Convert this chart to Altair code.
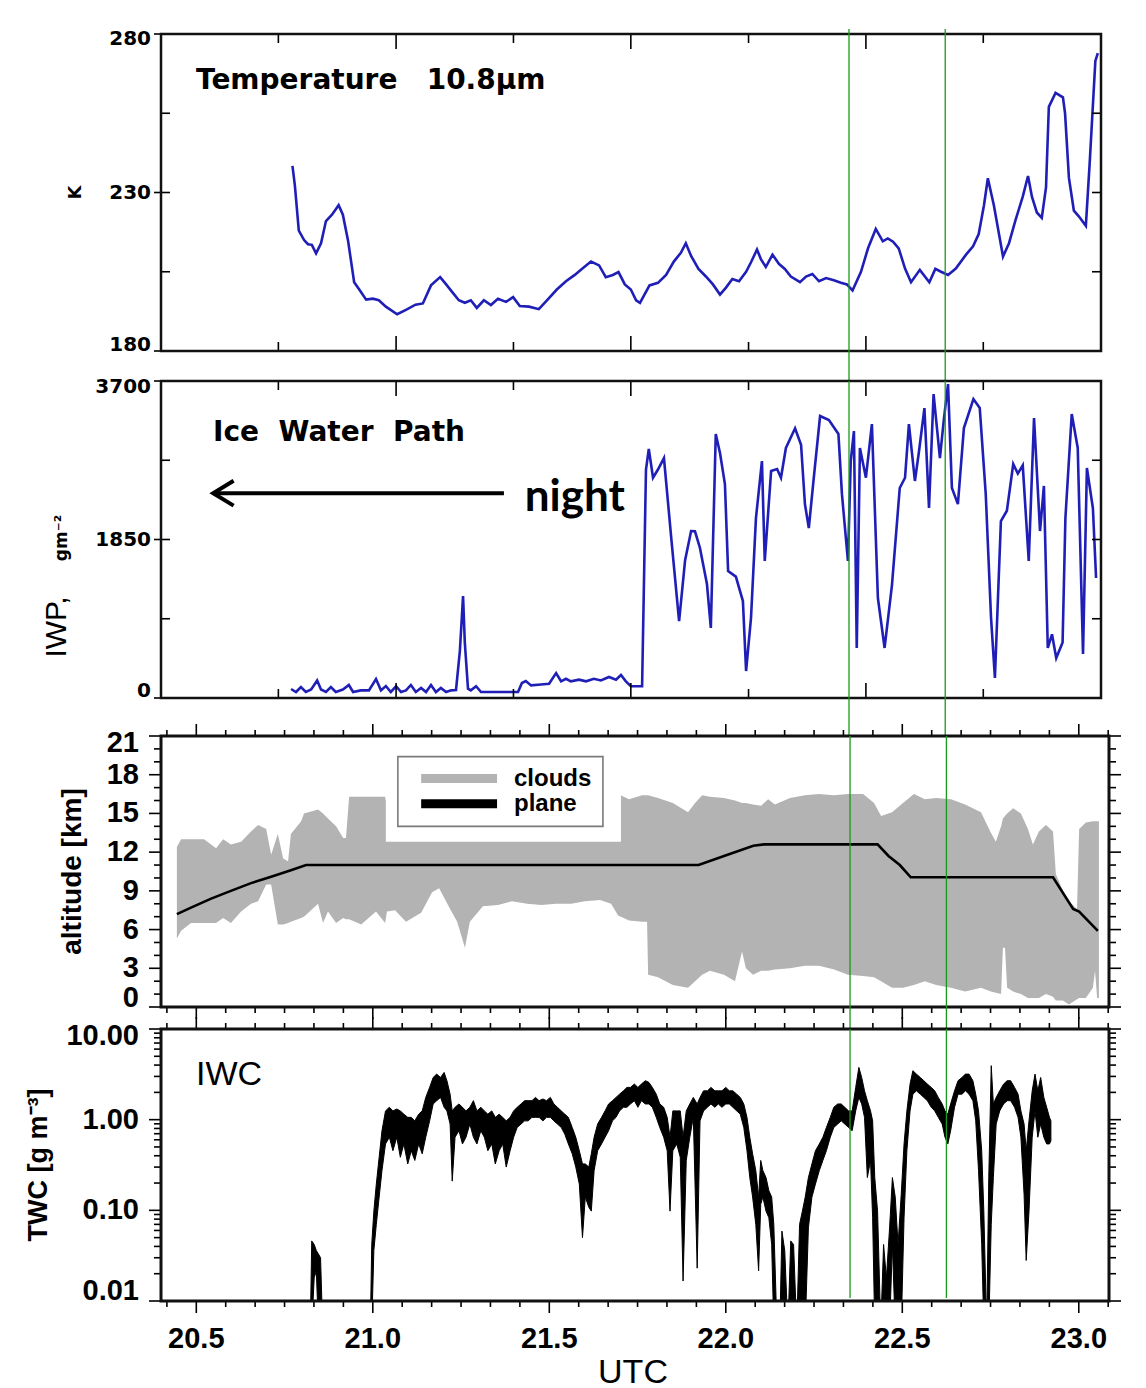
import altair as alt
import pandas as pd

# ---------------- data ----------------
# Panel 1: brightness temperature 10.8 um (K) vs UTC hour
TEMP_T = [20.773, 20.780, 20.791, 20.806, 20.817, 20.828, 20.840, 20.854, 20.868, 20.885,
          20.904, 20.916, 20.931, 20.948, 20.962, 20.982, 21.001, 21.018, 21.038, 21.070,
          21.095, 21.122, 21.143, 21.166, 21.192, 21.209, 21.227, 21.245, 21.262, 21.279,
          21.296, 21.316, 21.336, 21.356, 21.379, 21.399, 21.418, 21.444, 21.472, 21.495,
          21.523, 21.549, 21.574, 21.594, 21.620, 21.643, 21.662, 21.682, 21.698, 21.716,
          21.733, 21.748, 21.759, 21.786, 21.810, 21.833, 21.855, 21.875, 21.889, 21.904,
          21.925, 21.946, 21.966, 21.986, 22.003, 22.021, 22.040, 22.060, 22.074, 22.091,
          22.102, 22.116, 22.135, 22.153, 22.170, 22.187, 22.213, 22.230, 22.248, 22.267,
          22.287, 22.309, 22.329, 22.346, 22.362, 22.386, 22.406, 22.428, 22.448, 22.462,
          22.477, 22.493, 22.511, 22.528, 22.553, 22.580, 22.597, 22.613, 22.633, 22.655,
          22.684, 22.704, 22.720, 22.735, 22.746, 22.763, 22.789, 22.806, 22.824, 22.845,
          22.860, 22.871, 22.885, 22.899, 22.911, 22.919, 22.938, 22.959, 22.965, 22.976,
          22.990, 23.004, 23.024, 23.035, 23.051, 23.058]
TEMP_K = [238.4, 232, 218, 215, 213.7, 213.5, 210.8, 214, 221, 223,
          226, 223, 214.6, 201.7, 199.5, 196.2, 196.5, 196, 194, 191.6,
          193, 194.6, 195, 200.7, 203.3, 201, 198.5, 196, 195.2, 196,
          193.6, 196, 194.5, 196.5, 195.5, 197, 194.2, 194, 193.2, 196,
          199.4, 202, 204, 205.9, 208.2, 207, 203.3, 204, 204.9, 201,
          199.4, 196, 195.2, 200.7, 201.5, 204, 208.2, 211, 214, 210,
          205.9, 203.5, 201, 197.8, 200, 202.7, 202, 205, 208, 212,
          209, 206.5, 210.4, 207.5, 205.9, 203.5, 201.7, 203.5, 204.3, 202,
          203, 202.3, 201.5, 201, 199.1, 205, 212.4, 218.5, 214.6, 215.5,
          214.5, 212.4, 206, 201.7, 205.6, 201.7, 205.9, 205, 204, 206,
          210.4, 213, 216.9, 226, 234.5, 226, 209.8, 214, 221.1, 228.7,
          235.2, 228.7, 223.7, 222, 231.6, 257, 261.4, 260, 255, 234.6,
          224.3, 222.5, 219.5, 239.5, 271.5, 274]

# Panel 2: ice water path (g m-2)
IWP_T = [20.769, 20.783, 20.797, 20.811, 20.826, 20.843, 20.854, 20.868, 20.882, 20.896,
         20.916, 20.933, 20.945, 20.967, 20.990, 21.010, 21.024, 21.038, 21.052, 21.067,
         21.081, 21.095, 21.109, 21.123, 21.138, 21.152, 21.166, 21.180, 21.194, 21.209,
         21.223, 21.237, 21.248, 21.257, 21.262, 21.271, 21.279, 21.294, 21.308, 21.336,
         21.365, 21.393, 21.413, 21.424, 21.435, 21.450, 21.478, 21.501, 21.521, 21.535,
         21.549, 21.563, 21.586, 21.606, 21.628, 21.648, 21.671, 21.691, 21.705, 21.719,
         21.733, 21.756, 21.765, 21.776, 21.784, 21.796, 21.810, 21.827, 21.847, 21.870,
         21.887, 21.904, 21.915, 21.929, 21.949, 21.960, 21.974, 21.986, 22.000, 22.009,
         22.031, 22.051, 22.060, 22.074, 22.088, 22.105, 22.113, 22.131, 22.148, 22.159,
         22.173, 22.199, 22.216, 22.227, 22.238, 22.252, 22.270, 22.295, 22.322, 22.332,
         22.349, 22.357, 22.366, 22.374, 22.383, 22.400, 22.417, 22.434, 22.453, 22.474,
         22.496, 22.511, 22.522, 22.539, 22.550, 22.566, 22.579, 22.592, 22.610, 22.621,
         22.633, 22.644, 22.661, 22.678, 22.705, 22.723, 22.740, 22.755, 22.766, 22.783,
         22.800, 22.818, 22.831, 22.845, 22.862, 22.877, 22.894, 22.905, 22.916, 22.928,
         22.940, 22.958, 22.966, 22.984, 23.001, 23.016, 23.027, 23.044, 23.053]
IWP_V = [105, 70, 128, 70, 99, 205, 99, 70, 128, 70,
         99, 152, 70, 89, 89, 222, 89, 140, 70, 137,
         70, 89, 152, 70, 118, 70, 152, 70, 118, 70,
         89, 94, 551, 1191, 647, 108, 89, 137, 70, 70,
         70, 70, 70, 175, 198, 147, 157, 166, 291, 195,
         224, 195, 214, 195, 224, 205, 245, 214, 268, 195,
         137, 137, 137, 2667, 2906, 2571, 2667, 2800, 1898, 898,
         1609, 1949, 1946, 1754, 1330, 817, 3081, 2860, 2497, 1482,
         1417, 1132, 315, 936, 2100, 2766, 1599, 2649, 2672, 2571,
         2918, 3148, 2956, 2263, 1984, 2567, 3291, 3245, 3081, 2379,
         1599, 2764, 3116, 584, 2918, 2571, 3197, 1167, 584, 1321,
         2451, 2571, 3197, 2533, 2860, 3384, 2217, 3548, 2800, 3245,
         3664, 2451, 2263, 3150, 3489, 3384, 2379, 936, 234, 2065,
         2186, 2731, 2619, 2716, 1599, 3268, 1949, 2475, 584, 743,
         466, 647, 2100, 3314, 2918, 513, 2684, 2217, 1400]

# Panel 3: cloud layer (top / bottom, km) and aircraft altitude (km)
CLOUD_T = [20.445, 20.457, 20.485, 20.522, 20.556, 20.576, 20.598, 20.627, 20.655, 20.675,
           20.698, 20.712, 20.731, 20.746, 20.760, 20.768, 20.797, 20.805, 20.845, 20.859,
           20.873, 20.896, 20.916, 20.924, 20.933, 20.967, 21.009, 21.035, 21.040, 21.063,
           21.094, 21.137, 21.168, 21.188, 21.219, 21.239, 21.261, 21.275, 21.312, 21.355,
           21.394, 21.437, 21.477, 21.519, 21.562, 21.601, 21.644, 21.675, 21.695, 21.726,
           21.763, 21.777, 21.780, 21.808, 21.850, 21.893, 21.913, 21.933, 21.955, 21.995,
           22.026, 22.046, 22.057, 22.077, 22.100, 22.120, 22.139, 22.182, 22.224, 22.264,
           22.307, 22.346, 22.389, 22.420, 22.440, 22.471, 22.502, 22.533, 22.564, 22.596,
           22.638, 22.678, 22.723, 22.751, 22.765, 22.780, 22.785, 22.791, 22.797, 22.814,
           22.836, 22.856, 22.870, 22.887, 22.907, 22.927, 22.935, 22.955, 22.972, 22.995,
           23.001, 23.020, 23.040, 23.046, 23.052, 23.057]
CLOUD_TOP = [12.4, 13.0, 13.0, 13.0, 12.3, 13.0, 12.6, 12.8, 13.6, 14.1,
             13.8, 11.8, 13.4, 11.5, 11.3, 13.4, 14.4, 15.0, 15.3, 15.0,
             14.6, 14.0, 13.1, 13.1, 16.3, 16.3, 16.3, 16.3, 15.5, 15.5,
             15.5, 15.5, 15.5, 15.5, 15.5, 15.5, 15.5, 15.5, 15.5, 15.5,
             15.5, 15.5, 15.5, 15.5, 15.5, 15.5, 15.5, 15.5, 16.5, 16.1,
             16.4, 16.4, 16.4, 16.2, 15.8, 15.1, 15.8, 16.4, 16.3, 16.2,
             16.0, 15.8, 15.8, 15.7, 15.6, 16.1, 15.7, 16.2, 16.4, 16.5,
             16.4, 16.5, 16.5, 15.8, 14.8, 15.1, 15.8, 16.5, 16.1, 16.2,
             16.1, 15.7, 15.1, 13.5, 12.8, 14.0, 14.6, 14.8, 15.0, 15.4,
             15.0, 13.8, 12.6, 13.6, 14.1, 13.6, 10.3, 9.0, 8.2, 7.6,
             13.8, 14.3, 14.4, 14.4, 14.4, 14.4]
CLOUD_BOT = [5.3, 5.9, 6.5, 6.5, 6.5, 6.9, 6.5, 7.4, 8.0, 8.2,
             9.5, 9.5, 6.4, 6.4, 6.5, 6.6, 6.9, 7.0, 8.0, 6.5,
             7.4, 6.5, 6.9, 6.8, 6.8, 6.4, 7.4, 6.5, 7.4, 7.5,
             6.6, 7.3, 8.9, 9.2, 7.6, 6.6, 4.6, 6.6, 7.8, 7.9,
             8.2, 8.0, 7.9, 8.0, 8.0, 8.2, 8.3, 8.0, 7.1, 6.7,
             6.6, 6.6, 2.5, 2.3, 1.7, 1.5, 2.0, 2.5, 2.8, 2.5,
             2.0, 4.3, 3.0, 2.5, 2.8, 2.8, 2.9, 3.0, 3.2, 3.2,
             2.9, 2.5, 2.4, 2.3, 2.0, 1.5, 1.5, 1.7, 2.0, 1.7,
             1.5, 1.2, 1.5, 1.2, 1.1, 1.0, 4.6, 4.6, 1.5, 1.2,
             1.0, 0.7, 0.7, 0.7, 1.0, 0.8, 0.5, 0.5, 0.2, 0.6,
             0.7, 0.7, 1.5, 2.8, 0.7, 0.7]
PLANE_T = [20.445, 20.485, 20.542, 20.598, 20.655, 20.712, 20.768, 20.811, 21.923, 21.995,
           22.078, 22.109, 22.430, 22.461, 22.493, 22.524, 22.927, 22.984, 23.001, 23.054]
PLANE_ALT = [7.2, 7.7, 8.4, 9.0, 9.6, 10.1, 10.6, 11.0, 11.0, 11.7,
             12.5, 12.6, 12.6, 11.7, 11.0, 10.05, 10.05, 7.6, 7.4, 5.9]

# Panel 4: in-situ IWC (g m-3), noisy record drawn as its low / high envelope
IWC_T = [20.823, 20.827, 20.834, 20.840, 20.846, 20.852, 20.858, 20.993, 20.997, 21.003,
         21.010, 21.018, 21.026, 21.036, 21.047, 21.057, 21.068, 21.078, 21.088, 21.099,
         21.109, 21.119, 21.130, 21.140, 21.150, 21.161, 21.171, 21.181, 21.192, 21.202,
         21.210, 21.219, 21.225, 21.233, 21.244, 21.254, 21.264, 21.275, 21.285, 21.295,
         21.306, 21.316, 21.326, 21.337, 21.347, 21.358, 21.368, 21.378, 21.389, 21.399,
         21.409, 21.420, 21.430, 21.440, 21.451, 21.461, 21.471, 21.482, 21.492, 21.503,
         21.513, 21.523, 21.534, 21.544, 21.554, 21.565, 21.575, 21.585, 21.594, 21.602,
         21.612, 21.619, 21.627, 21.637, 21.648, 21.658, 21.668, 21.679, 21.689, 21.699,
         21.710, 21.720, 21.730, 21.741, 21.751, 21.761, 21.772, 21.782, 21.792, 21.803,
         21.813, 21.824, 21.834, 21.842, 21.850, 21.861, 21.871, 21.879, 21.888, 21.898,
         21.908, 21.919, 21.927, 21.937, 21.948, 21.958, 21.969, 21.979, 21.989, 22.000,
         22.010, 22.020, 22.031, 22.041, 22.051, 22.060, 22.068, 22.076, 22.085, 22.093,
         22.099, 22.105, 22.114, 22.122, 22.130, 22.136, 22.145, 22.153, 22.159, 22.167,
         22.176, 22.184, 22.192, 22.201, 22.209, 22.217, 22.225, 22.234, 22.244, 22.254,
         22.265, 22.275, 22.285, 22.296, 22.306, 22.317, 22.327, 22.337, 22.348, 22.358,
         22.368, 22.377, 22.385, 22.393, 22.401, 22.410, 22.416, 22.422, 22.430, 22.439,
         22.447, 22.455, 22.464, 22.472, 22.480, 22.488, 22.497, 22.505, 22.513, 22.522,
         22.530, 22.540, 22.551, 22.561, 22.571, 22.582, 22.592, 22.602, 22.613, 22.621,
         22.629, 22.637, 22.648, 22.658, 22.669, 22.679, 22.689, 22.700, 22.708, 22.716,
         22.725, 22.731, 22.739, 22.745, 22.752, 22.758, 22.766, 22.776, 22.787, 22.797,
         22.807, 22.818, 22.828, 22.836, 22.845, 22.851, 22.859, 22.868, 22.876, 22.884,
         22.892, 22.901, 22.909, 22.917, 22.921]
IWC_LO = [0.005, 0.005, 0.018, 0.0215, 0.005, 0.005, 0.005, 0.005, 0.005, 0.036,
          0.07, 0.14, 0.275, 0.54, 0.64, 0.455, 0.64, 0.385, 0.54, 0.325,
          0.455, 0.355, 0.54, 0.42, 0.64, 0.97, 1.49, 1.62, 1.76, 1.37,
          1.25, 0.895, 0.21, 0.64, 0.755, 0.54, 0.64, 0.895, 0.64, 0.54,
          0.755, 0.64, 0.455, 0.54, 0.325, 0.455, 0.54, 0.30, 0.455, 0.64,
          0.82, 0.895, 0.97, 0.97, 1.06, 1.06, 1.06, 0.97, 1.06, 1.06,
          0.97, 0.895, 0.82, 0.69, 0.54, 0.42, 0.30, 0.195, 0.05, 0.14,
          0.108, 0.098, 0.275, 0.455, 0.54, 0.64, 0.755, 0.97, 1.06, 1.25,
          1.37, 1.37, 1.49, 1.62, 1.37, 1.62, 1.49, 1.49, 1.37, 1.06,
          0.82, 0.64, 0.455, 0.098, 0.455, 0.54, 0.385, 0.0166, 0.355, 0.64,
          1.06, 0.023, 0.97, 1.25, 1.37, 1.49, 1.37, 1.49, 1.37, 1.49,
          1.49, 1.37, 1.25, 1.15, 0.82, 0.455, 0.23, 0.14, 0.07, 0.0215,
          0.117, 0.14, 0.098, 0.083, 0.042, 0.005, 0.005, 0.005, 0.005, 0.005,
          0.005, 0.005, 0.005, 0.005, 0.005, 0.005, 0.005, 0.064, 0.14, 0.195,
          0.275, 0.355, 0.455, 0.64, 0.82, 0.895, 0.97, 0.895, 0.82, 0.755,
          1.25, 1.76, 1.49, 1.06, 0.23, 0.355, 0.083, 0.005, 0.005, 0.005,
          0.005, 0.005, 0.005, 0.042, 0.005, 0.005, 0.005, 0.083, 0.455, 1.25,
          1.91, 2.08, 1.91, 1.76, 1.62, 1.37, 1.25, 1.06, 0.895, 0.64,
          0.54, 0.755, 1.37, 1.91, 1.91, 2.08, 1.91, 1.62, 0.97, 0.275,
          0.042, 0.005, 0.005, 0.005, 0.07, 0.23, 0.895, 1.25, 1.49, 1.62,
          1.62, 1.37, 1.06, 0.64, 0.15, 0.028, 0.098, 0.64, 1.25, 0.64,
          0.895, 0.64, 0.54, 0.54, 0.585]
IWC_HI = [0.005, 0.046, 0.042, 0.036, 0.033, 0.030, 0.005, 0.005, 0.042, 0.098,
          0.195, 0.385, 0.755, 1.25, 1.37, 1.25, 1.31, 1.25, 1.15, 1.06,
          1.06, 0.97, 1.15, 1.25, 1.76, 2.27, 2.92, 3.18, 2.92, 3.32,
          2.69, 1.91, 1.25, 1.37, 1.49, 1.37, 1.25, 1.37, 1.62, 1.25,
          1.37, 1.25, 1.15, 1.25, 1.06, 1.15, 1.06, 0.97, 1.06, 1.25,
          1.37, 1.49, 1.62, 1.62, 1.62, 1.76, 1.62, 1.69, 1.62, 1.76,
          1.49, 1.37, 1.25, 1.15, 1.06, 0.82, 0.64, 0.455, 0.325, 0.325,
          0.30, 0.42, 0.64, 0.895, 1.06, 1.25, 1.49, 1.62, 1.76, 1.91,
          2.08, 2.27, 2.27, 2.47, 2.27, 2.47, 2.69, 2.58, 2.27, 1.91,
          1.49, 1.37, 1.06, 0.64, 1.25, 1.25, 1.25, 0.64, 1.25, 1.49,
          1.76, 1.49, 1.76, 2.08, 2.08, 2.27, 2.08, 2.08, 2.08, 2.27,
          2.08, 2.08, 1.91, 1.76, 1.49, 1.06, 0.64, 0.42, 0.275, 0.14,
          0.355, 0.275, 0.23, 0.165, 0.14, 0.07, 0.005, 0.005, 0.059, 0.036,
          0.005, 0.046, 0.042, 0.005, 0.07, 0.098, 0.14, 0.23, 0.325, 0.455,
          0.54, 0.64, 0.82, 1.06, 1.37, 1.49, 1.49, 1.37, 1.25, 1.25,
          2.27, 3.77, 2.92, 2.08, 1.62, 1.25, 0.97, 0.23, 0.098, 0.005,
          0.042, 0.018, 0.064, 0.23, 0.14, 0.042, 0.15, 0.54, 1.25, 2.47,
          3.47, 3.18, 2.92, 2.69, 2.47, 2.27, 2.08, 1.76, 1.49, 1.25,
          1.15, 1.49, 2.08, 2.69, 2.92, 3.18, 3.18, 2.69, 1.91, 1.25,
          0.455, 0.098, 0.005, 0.23, 3.94, 1.49, 1.76, 2.08, 2.47, 2.69,
          2.69, 2.27, 1.91, 1.25, 0.895, 0.455, 0.97, 2.08, 3.18, 2.08,
          2.92, 1.76, 1.37, 1.06, 0.97]

# vertical reference lines (UTC)
GREEN_T = [22.352, 22.625]

# tick values / labels
TOP_MAJOR = [21.067, 21.733, 22.4]
TOP_MINOR = [20.733, 21.4, 22.067, 22.733]
T_LABELS = [180, 230, 280]
T_LABEL_TXT = ["180", "230", "280"]
T_QUART = [180, 205, 230, 255, 280]
IWP_LABELS = [0, 1850, 3700]
IWP_LABEL_TXT = ["0", "1850", "3700"]
IWP_QUART = [0, 925, 1850, 2775, 3700]
ALT_MAJOR = [0, 3, 6, 9, 12, 15, 18, 21]
ALT_LABEL_TXT = ["0", "3", "6", "9", "12", "15", "18", "21"]
ALT_MINOR = [1, 2, 4, 5, 7, 8, 10, 11, 13, 14, 16, 17, 19, 20]
UTC_MAJOR = [20.5, 21.0, 21.5, 22.0, 22.5, 23.0]
UTC_LABEL_TXT = ["20.5", "21.0", "21.5", "22.0", "22.5", "23.0"]
UTC_MINOR = [round(20 + k / 12, 4) for k in range(5, 38) if k % 6 != 0]
TWC_MAJOR = [0.01, 0.1, 1, 10]
TWC_LABEL_TXT = ["0.01", "0.10", "1.00", "10.00"]
TWC_MINOR = [m * 10.0 ** e for e in (-2, -1, 0) for m in range(2, 10)]

# annotation anchors (data space)
ARROW_T0, ARROW_T1, ARROW_V = 20.548, 21.373, 2390
CHEV_T = [20.606, 20.548, 20.606]
CHEV_V = [2535, 2390, 2245]
NIGHT_T, NIGHT_V = 21.574, 2180
LEG_BOX = (21.037, 21.703, 12.8, 20.3)
LEG_FRAME = (21.071, 21.652, 14.0, 19.4)
LEG_LINE_T = (21.137, 21.352)
LEG_TEXT_T = 21.40
LEG_Y = [17.7, 15.75]

# ---------------- styling ----------------
BLUE = "#1f1fb8"
GREEN = "#1a9a1a"
GRAY = "#b3b3b3"
F_IDL = "DejaVu Sans"
F_HELV = "Liberation Sans"
NB = "\u00a0"

W12, H1, H2 = 940, 317, 317
W34, H3, H4 = 948, 271, 272
GAP1, GAP2, GAP3 = 30, 38, 22
XS12 = alt.Scale(domain=[20.4, 23.067], nice=False, zero=False)
XS34 = alt.Scale(domain=[20.4, 23.0856], nice=False, zero=False)
YS1 = alt.Scale(domain=[180, 280], range=[H1, 0], nice=False, zero=False)
YS2 = alt.Scale(domain=[0, 3700], range=[H2, 0], nice=False, zero=False)
YS3 = alt.Scale(domain=[0, 21], range=[H3, 0], nice=False, zero=False)
YS4 = alt.Scale(type="log", domain=[0.01, 10], range=[H4, 0], nice=False)


def one():
    return pd.DataFrame({"a": [0]})


def hrules(values, ys, x0, x1, sw=1.6, color="black"):
    return alt.Chart(pd.DataFrame({"v": values})).mark_rule(color=color, strokeWidth=sw).encode(
        y=alt.Y("v:Q", scale=ys, axis=None), x=alt.value(x0), x2=alt.value(x1))


def vrules(values, xs, y0, y1, sw=1.6, color="black"):
    return alt.Chart(pd.DataFrame({"t": values})).mark_rule(color=color, strokeWidth=sw).encode(
        x=alt.X("t:Q", scale=xs, axis=None), y=alt.value(y0), y2=alt.value(y1))


def frame(w, h, sw):
    return alt.Chart(one()).mark_rect(fillOpacity=0, stroke="#111111", strokeWidth=sw).encode(
        x=alt.value(0), x2=alt.value(w), y=alt.value(0), y2=alt.value(h))


def text(s, x, y, **kw):
    return alt.Chart(one()).mark_text(text=s, **kw).encode(x=alt.value(x), y=alt.value(y))


def ylabels(values, labels, ys, x, dy=0, **kw):
    return alt.Chart(pd.DataFrame({"v": values, "s": labels})).mark_text(
        align="right", baseline="middle", color="black", dy=dy, **kw).encode(
        y=alt.Y("v:Q", scale=ys, axis=None), x=alt.value(x), text="s:N")


def ylabel_set(values, labels, ys, x, dy_top, dy_bot, **kw):
    # IDL-style: the end labels sit just inside the frame
    return [
        ylabels(values[1:-1], labels[1:-1], ys, x, 0, **kw),
        ylabels(values[-1:], labels[-1:], ys, x, dy_top, **kw),
        ylabels(values[:1], labels[:1], ys, x, dy_bot, **kw),
    ]


def xlabels(values, labels, xs, y, **kw):
    return alt.Chart(pd.DataFrame({"t": values, "s": labels})).mark_text(
        align="center", baseline="top", color="black", **kw).encode(
        x=alt.X("t:Q", scale=xs, axis=None), y=alt.value(y), text="s:N")


def box_ticks_12(w, h, quart, labels, ys):
    return [
        vrules(TOP_MAJOR, XS12, 0, 15), vrules(TOP_MINOR, XS12, 0, 9),
        vrules(TOP_MAJOR, XS12, h - 15, h), vrules(TOP_MINOR, XS12, h - 9, h),
        hrules(quart, ys, 0, 9), hrules(quart, ys, w - 9, w),
        hrules(labels, ys, -7, 0),
    ]


IDL_LABEL = dict(font=F_IDL, fontSize=20, fontWeight="bold")
BIG_LABEL = dict(font=F_HELV, fontSize=29, fontWeight="bold")

# ---------------- panel 1 ----------------
temp = alt.Chart(pd.DataFrame({"t": TEMP_T, "k": TEMP_K})).mark_line(
    color=BLUE, strokeWidth=2.6).encode(
    x=alt.X("t:Q", scale=XS12, axis=None),
    y=alt.Y("k:Q", scale=YS1, axis=None))
anchor = alt.Chart(one()).mark_point(opacity=0, size=1).encode(x=alt.value(-152), y=alt.value(-25))
p1 = alt.layer(
    temp, *box_ticks_12(W12, H1, T_QUART, T_LABELS, YS1), frame(W12, H1, 2.5),
    *ylabel_set(T_LABELS, T_LABEL_TXT, YS1, -10, 5, -6, **IDL_LABEL),
    text("Temperature" + NB * 3 + "10.8\u03bcm", 35, 55, align="left", baseline="alphabetic",
         font=F_IDL, fontSize=28, fontWeight="bold", color="black"),
    text("K", -85, H1 / 2, angle=270, align="center", baseline="middle",
         font=F_IDL, fontSize=18, fontWeight="bold", color="black"),
    vrules(GREEN_T, XS12, -5, H1 + GAP1, sw=1.3, color=GREEN),
    anchor,
).properties(width=W12, height=H1 + GAP1)

# ---------------- panel 2 ----------------
iwp = alt.Chart(pd.DataFrame({"t": IWP_T, "v": IWP_V})).mark_line(
    color=BLUE, strokeWidth=2.6).encode(
    x=alt.X("t:Q", scale=XS12, axis=None),
    y=alt.Y("v:Q", scale=YS2, axis=None))
shaft = alt.Chart(pd.DataFrame({"t0": [ARROW_T0], "t1": [ARROW_T1], "v": [ARROW_V]})).mark_rule(
    color="black", strokeWidth=4).encode(
    x=alt.X("t0:Q", scale=XS12, axis=None), x2="t1:Q", y=alt.Y("v:Q", scale=YS2, axis=None))
chev = alt.Chart(pd.DataFrame({"t": CHEV_T, "v": CHEV_V, "o": [0, 1, 2]})).mark_line(
    color="black", strokeWidth=4, strokeJoin="miter").encode(
    x=alt.X("t:Q", scale=XS12, axis=None), y=alt.Y("v:Q", scale=YS2, axis=None), order="o:Q")
night = alt.Chart(pd.DataFrame({"t": [NIGHT_T], "v": [NIGHT_V]})).mark_text(
    text="night", font="Lato", fontSize=44, fontWeight="bold", color="black",
    align="center", baseline="alphabetic").encode(
    x=alt.X("t:Q", scale=XS12, axis=None), y=alt.Y("v:Q", scale=YS2, axis=None))
p2 = alt.layer(
    iwp, *box_ticks_12(W12, H2, IWP_QUART, IWP_LABELS, YS2), frame(W12, H2, 2.5),
    *ylabel_set(IWP_LABELS, IWP_LABEL_TXT, YS2, -10, 6, -7, **IDL_LABEL),
    text("Ice" + NB * 2 + "Water" + NB * 2 + "Path", 52, 60, align="left", baseline="alphabetic",
         font=F_IDL, fontSize=28, fontWeight="bold", color="black"),
    shaft, chev, night,
    text("IWP,", -104, 246, angle=270, align="center", baseline="middle",
         font=F_HELV, fontSize=30, color="black"),
    text("gm\u207b\u00b2", -99, 157, angle=270, align="center", baseline="middle",
         font=F_IDL, fontSize=17, fontWeight="bold", color="black"),
    vrules(GREEN_T, XS12, 0, H2 + GAP2, sw=1.3, color=GREEN),
).properties(width=W12, height=H2 + GAP2)

# ---------------- panel 3 ----------------
clouds = alt.Chart(pd.DataFrame({"t": CLOUD_T, "top": CLOUD_TOP, "bot": CLOUD_BOT})).mark_area(
    color=GRAY, opacity=1).encode(
    x=alt.X("t:Q", scale=XS34, axis=None),
    y=alt.Y("top:Q", scale=YS3, axis=None),
    y2="bot:Q")
plane = alt.Chart(pd.DataFrame({"t": PLANE_T, "alt": PLANE_ALT})).mark_line(
    color="black", strokeWidth=2.6).encode(
    x=alt.X("t:Q", scale=XS34, axis=None), y=alt.Y("alt:Q", scale=YS3, axis=None))


def rect_data(x0, x1, y0, y1, **kw):
    return alt.Chart(pd.DataFrame({"x0": [x0], "x1": [x1], "y0": [y0], "y1": [y1]})).mark_rect(**kw).encode(
        x=alt.X("x0:Q", scale=XS34, axis=None), x2="x1:Q",
        y=alt.Y("y0:Q", scale=YS3, axis=None), y2="y1:Q")


leg_box = rect_data(*LEG_BOX, fill="white")
leg_frame = rect_data(*LEG_FRAME, fillOpacity=0, stroke="#7a7a7a", strokeWidth=1.6)
leg_lines = alt.Chart(pd.DataFrame({"t0": [LEG_LINE_T[0]] * 2, "t1": [LEG_LINE_T[1]] * 2,
                                    "y": LEG_Y, "c": [GRAY, "black"]})).mark_rule(strokeWidth=9).encode(
    x=alt.X("t0:Q", scale=XS34, axis=None), x2="t1:Q",
    y=alt.Y("y:Q", scale=YS3, axis=None), color=alt.Color("c:N", scale=None))
leg_text = alt.Chart(pd.DataFrame({"t": [LEG_TEXT_T] * 2, "y": LEG_Y, "s": ["clouds", "plane"]})).mark_text(
    align="left", baseline="middle", font=F_HELV, fontSize=24, fontWeight="bold", color="black").encode(
    x=alt.X("t:Q", scale=XS34, axis=None), y=alt.Y("y:Q", scale=YS3, axis=None), text="s:N")

p3 = alt.layer(
    clouds, leg_box, leg_frame, leg_lines, leg_text, plane,
    hrules(ALT_MAJOR, YS3, -12, 0), hrules(ALT_MINOR, YS3, -7, 0),
    hrules(ALT_MAJOR, YS3, W34, W34 + 12), hrules(ALT_MINOR, YS3, W34, W34 + 7),
    vrules(UTC_MAJOR, XS34, -12, 0), vrules(UTC_MINOR, XS34, -6, 0),
    vrules(UTC_MAJOR, XS34, H3, H3 + 12), vrules(UTC_MINOR, XS34, H3, H3 + 6),
    frame(W34, H3, 3),
    *ylabel_set(ALT_MAJOR, ALT_LABEL_TXT, YS3, -22, 7, -9, **BIG_LABEL),
    text("altitude [km]", -88, H3 / 2, angle=270, align="center", baseline="middle",
         font=F_HELV, fontSize=28, fontWeight="bold", color="black"),
    vrules(GREEN_T, XS34, 0, H3 + GAP3, sw=1.3, color=GREEN),
).properties(width=W34, height=H3 + GAP3)

# ---------------- panel 4 ----------------
iwc = alt.Chart(pd.DataFrame({"t": IWC_T, "lo": IWC_LO, "hi": IWC_HI})).mark_area(
    color="black", stroke="black", strokeWidth=1, clip=True).encode(
    x=alt.X("t:Q", scale=XS34, axis=None),
    y=alt.Y("hi:Q", scale=YS4, axis=None),
    y2="lo:Q")

p4 = alt.layer(
    iwc,
    hrules(TWC_MAJOR, YS4, -12, 0), hrules(TWC_MINOR, YS4, -7, 0),
    hrules(TWC_MAJOR, YS4, W34, W34 + 12), hrules(TWC_MINOR, YS4, W34, W34 + 7),
    vrules(UTC_MAJOR, XS34, -12, 0), vrules(UTC_MINOR, XS34, -6, 0),
    vrules(UTC_MAJOR, XS34, H4, H4 + 12), vrules(UTC_MINOR, XS34, H4, H4 + 6),
    frame(W34, H4, 3),
    *ylabel_set(TWC_MAJOR, TWC_LABEL_TXT, YS4, -22, 7, -10, **BIG_LABEL),
    xlabels(UTC_MAJOR, UTC_LABEL_TXT, XS34, H4 + 24, **BIG_LABEL),
    text("IWC", 35, 56, align="left", baseline="alphabetic", font=F_HELV, fontSize=34, color="black"),
    text("UTC", 472, H4 + 72, align="center", baseline="middle", font=F_HELV, fontSize=34, color="black"),
    text("TWC [g m\u207b\u00b3]", -122, H4 / 2, angle=270, align="center", baseline="middle",
         font=F_HELV, fontSize=27, fontWeight="bold", color="black"),
    vrules(GREEN_T, XS34, 0, H4 - 3, sw=1.3, color=GREEN),
).properties(width=W34, height=H4)

chart = alt.vconcat(p1, p2, p3, p4, spacing=0, bounds="flush").properties(
    padding=0, background="white").configure_view(strokeWidth=0)

chart.save("out.html", embed_options={"renderer": "svg", "actions": False})
